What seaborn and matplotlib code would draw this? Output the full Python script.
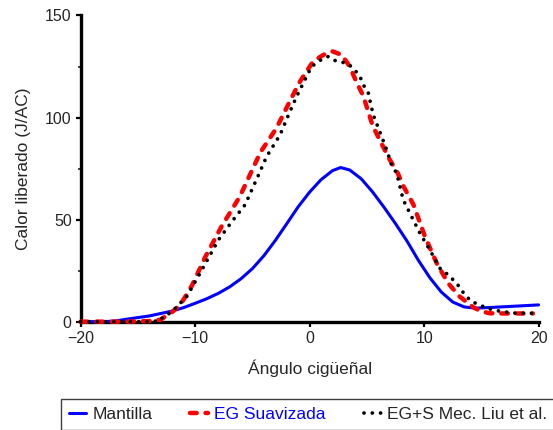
import matplotlib
matplotlib.use("Agg")
import matplotlib.pyplot as plt
import seaborn as sns
import pandas as pd

# Crank-angle axis values (degrees) and heat release (J/CA) for each model
mantilla_x = [-20, -18, -17, -16, -15, -14, -13, -12, -11, -10, -9, -8, -7, -6, -5,
              -4, -3, -2, -1, 0, 1, 2, 2.7, 3.5, 4.5, 5.5, 6.5, 7.5, 8.5, 9.5,
              10.5, 11.5, 12.5, 13.5, 14.5, 16, 18, 20]
mantilla_y = [0, 0, 0.3, 1.2, 2.0, 2.8, 4.0, 5.2, 6.9, 9.0, 11.2, 13.8, 17.0, 21.0, 26.0,
              32.3, 39.8, 48.0, 56.3, 63.5, 69.6, 74.0, 75.5, 74.3, 70.0, 63.5, 56.0, 48.0, 39.5, 30.0,
              21.5, 14.5, 9.6, 7.2, 6.6, 7.0, 7.6, 8.2]

suav_x = [-20, -18, -16, -14, -13, -12.5, -12, -11.3, -10.3, -9.1, -7.7, -6.1, -4.3,
          -2.9, -1.6, -0.85, 0.3, 1.2, 2.0, 2.8, 3.5, 4.0, 4.7, 5.5, 6.3, 7.0, 7.7,
          8.2, 9.05, 10.07, 11.1, 12.1, 13.1, 14.3, 15.0, 15.75, 17, 18.5, 19.5]
suav_y = [0, 0, 0, 0.3, 1.0, 3.0, 4.8, 8.2, 17.5, 31.9, 46.6, 61.3, 83.0,
          94.8, 109.5, 117.6, 127.5, 130.7, 132.4, 130.7, 125.0, 118.5, 110.3, 96.0, 87.0, 79.3, 72.7,
          66.2, 57.5, 41.7, 28.6, 18.8, 12.3, 7.0, 5.0, 4.1, 4.0, 4.0, 4.0]

liu_x = [-20, -16, -14, -13, -12.9, -12, -11.5, -10.74, -9.58, -7.98, -6.8, -5.65, -4.5,
         -3.76, -2.59, -1.72, -1.14, -0.56, 0.17, 1.19, 1.63, 2.35, 3.23, 3.81, 4.39,
         4.83, 5.12, 5.55, 6.29, 6.72, 7.16, 7.6, 8.17, 8.9, 9.63, 10.5, 11.37, 12.1,
         12.84, 13.56, 14.15, 14.87, 15.45, 16.77, 18.1, 19.7]
liu_y = [0, 0, 0, 0.5, 1.7, 5.0, 8.0, 12.3, 23.7, 40.0, 49.0, 57.2, 71.5,
         80.9, 91.5, 103.0, 110.3, 116.9, 125.0, 129.1, 129.9, 127.5, 126.7, 124.2, 120.1,
         114.4, 112.0, 101.3, 90.7, 84.2, 76.8, 72.7, 59.7, 51.5, 43.3, 35.1, 26.2, 22.9,
         18.8, 13.1, 9.8, 8.2, 6.6, 4.9, 4.1, 4.1]

labels = ["Mantilla", "EG Suavizada", "EG+S Mec. Liu et al."]
x_ticks = [-20, -10, 0, 10, 20]
y_ticks = [0, 50, 100, 150]

sns.set_style("ticks")
plt.rcParams["font.family"] = ["Liberation Sans", "DejaVu Sans"]

df_m = pd.DataFrame({"x": mantilla_x, "y": mantilla_y})
df_s = pd.DataFrame({"x": suav_x, "y": suav_y})
df_l = pd.DataFrame({"x": liu_x, "y": liu_y})

fig = plt.figure(figsize=(5.53, 4.30), dpi=100)
ax = fig.add_axes([0.146, 0.252, 0.828, 0.712])

sns.lineplot(data=df_m, x="x", y="y", ax=ax, color="#0000ff", linewidth=2.2,
             sort=False, label=labels[0], clip_on=False, zorder=3)
sns.lineplot(data=df_s, x="x", y="y", ax=ax, color="#ff0000", linewidth=3.2,
             sort=False, label=labels[1], clip_on=False, zorder=4,
             linestyle=(0, (1.5, 2.0)), dash_capstyle="round")
sns.lineplot(data=df_l, x="x", y="y", ax=ax, color="black", linewidth=2.7,
             sort=False, label=labels[2], clip_on=False, zorder=5,
             linestyle=(0, (0.01, 2.2)), dash_capstyle="round")

ax.set_xlim(-20, 20)
ax.set_ylim(0, 150)
ax.set_xticks(x_ticks)
ax.set_yticks(y_ticks)
ax.set_yticks([25, 75, 125], minor=True)
ax.set_xticklabels([f"{t}".replace("-", "\u2212") for t in x_ticks])
ax.tick_params(axis="both", which="major", direction="out", length=3.5, width=1.6,
               labelsize=11.5, color="black", pad=3)
ax.tick_params(axis="y", which="minor", direction="out", length=2, width=1.2)
for side in ("left", "bottom"):
    ax.spines[side].set_linewidth(2.4)
    ax.spines[side].set_color("black")
sns.despine(ax=ax)

ax.set_xlabel("Ángulo cigüeñal", fontsize=12.5, labelpad=10)
ax.set_ylabel("Calor liberado (J/AC)", fontsize=12.5, labelpad=10)

handles, _ = ax.get_legend_handles_labels()
ax.get_legend().remove()
leg = fig.legend(handles, labels, loc="upper left",
                 bbox_to_anchor=(61 / 553, 1 - 399 / 430), ncol=3,
                 fontsize=12.5, frameon=True, fancybox=False, framealpha=1,
                 edgecolor="0.25", handlelength=1.0, handletextpad=0.35,
                 columnspacing=2.2, borderpad=0.45, borderaxespad=0)
leg.get_frame().set_linewidth(1.0)
leg.get_texts()[1].set_color("#0000ff")

fig.savefig("out.png", dpi=100)
